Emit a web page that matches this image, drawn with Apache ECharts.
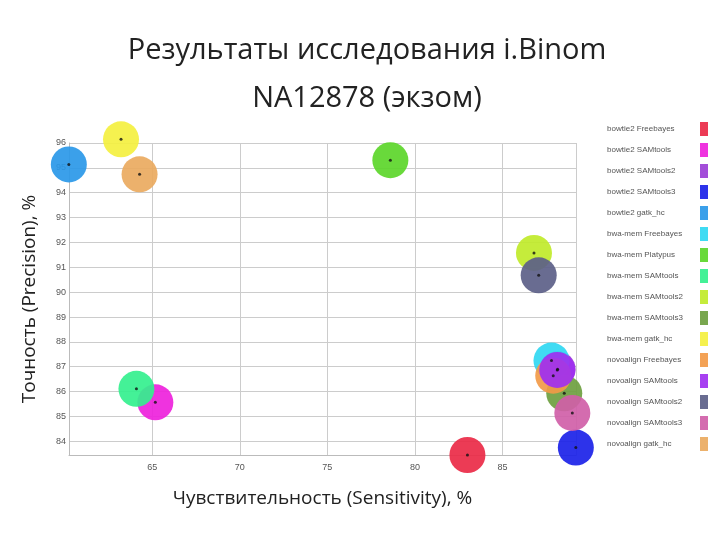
<!DOCTYPE html><html><head><meta charset="utf-8">
<script src="https://cdn.jsdelivr.net/npm/echarts@6/dist/echarts.min.js"></script>
<style>html,body{margin:0;background:#fff}#c{width:720px;height:540px}</style></head>
<body><div id="c"></div><script>
const names=["bowtie2 Freebayes","bowtie2 SAMtools","bowtie2 SAMtools2","bowtie2 SAMtools3","bowtie2 gatk_hc","bwa-mem Freebayes","bwa-mem Platypus","bwa-mem SAMtools","bwa-mem SAMtools2","bwa-mem SAMtools3","bwa-mem gatk_hc","novoalign Freebayes","novoalign SAMtools","novoalign SAMtools2","novoalign SAMtools3","novoalign gatk_hc"];
const colors=["#ea2a46","#ee22dc","#9b3fd6","#1b22e8","#2a98e8","#30d8f2","#5cd62a","#34f08e","#c0ea2a","#6ea040","#f4f040","#f29a48","#a030f0","#5c6088","#d060a8","#eaaa60"];
const sensitivity=[83.0,65.18,88.15,89.19,60.24,87.8,78.6,64.1,86.8,88.53,63.22,87.9,88.13,87.07,88.99,64.28];
const precision=[83.45,85.57,86.9,83.75,95.14,87.25,95.31,86.11,91.58,85.93,96.15,86.64,86.87,90.68,85.14,94.74];
const xMin=60.25,xMax=89.2,yMin=83.45,yMax=96;
const series=names.map((n,i)=>({name:n,type:'scatter',symbolSize:36,clip:false,
  itemStyle:{color:colors[i],opacity:0.92},data:[[sensitivity[i],precision[i]]],z:3}));
series.push({name:'dots',type:'scatter',symbolSize:3,clip:false,itemStyle:{color:'#111'},silent:true,z:5,
  data:sensitivity.map((s,i)=>[s,precision[i]])});
const ch=echarts.init(document.getElementById('c'));
ch.setOption({
  animation:false,
  title:{text:'Результаты исследования i.Binom\nNA12878 (экзом)',left:362,top:22,textAlign:'center',
    textStyle:{fontFamily:'Open Sans',fontSize:29,fontWeight:'normal',color:'#222',lineHeight:48}},
  grid:{left:69,right:144,top:143,bottom:85},
  xAxis:{type:'value',min:xMin,max:xMax,splitNumber:6,
    name:'Чувствительность (Sensitivity), %',nameLocation:'middle',nameGap:34,
    nameTextStyle:{fontFamily:'Open Sans',fontSize:19,color:'#222'},
    axisLabel:{fontSize:9,color:'#555',showMinLabel:false,showMaxLabel:false},
    axisTick:{show:false},axisLine:{lineStyle:{color:'#bbb'}},
    splitLine:{show:true,lineStyle:{color:'#ccc'}}},
  yAxis:{type:'value',min:yMin,max:yMax,splitNumber:12,
    name:'Точность (Precision), %',nameLocation:'middle',nameGap:30,
    nameTextStyle:{fontFamily:'Open Sans',fontSize:19,color:'#222'},
    axisLabel:{fontSize:9,color:'#555',margin:3,showMinLabel:false},
    axisTick:{show:false},axisLine:{show:true,lineStyle:{color:'#bbb'}},
    splitLine:{show:true,lineStyle:{color:'#ccc'}}},
  legend:{orient:'vertical',left:602,top:117,itemGap:7,itemWidth:8,itemHeight:14,icon:'rect',align:'right',
    data:names,formatter:n=>'{a|'+n+'}',
    textStyle:{rich:{a:{fontSize:8,color:'#555',width:88,align:'left'}}}},
  series:series
});
</script></body></html>
